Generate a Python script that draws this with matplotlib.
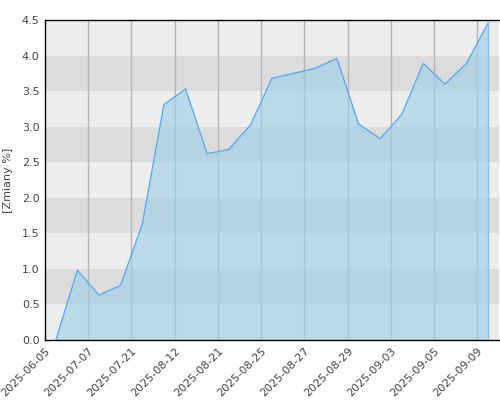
import matplotlib
matplotlib.use('Agg')
from matplotlib import pyplot as plt
import numpy as np

# values (one point per session, categorical x)
values = [0.0, 0.98, 0.63, 0.77, 1.63, 3.31, 3.53, 2.62, 2.68, 3.02, 3.68,
          3.75, 3.82, 3.96, 3.04, 2.83, 3.17, 3.89, 3.60, 3.89, 4.46]
tick_labels = ['2025-06-05', '2025-07-07', '2025-07-21', '2025-08-12', '2025-08-21',
               '2025-08-25', '2025-08-27', '2025-08-29', '2025-09-03', '2025-09-05',
               '2025-09-09']
y_ticks = [0.0, 0.5, 1.0, 1.5, 2.0, 2.5, 3.0, 3.5, 4.0, 4.5]

fig = plt.figure(figsize=(5, 4), dpi=100)
ax = fig.add_axes([0.09, 0.15, 0.908, 0.80])
ax.set_facecolor('#ededed')

x = np.arange(len(values))
ax.set_xlim(-0.5, len(values) - 0.5)
ax.set_ylim(0, 4.5)

# alternating horizontal bands
for lo in y_ticks[1::2]:
    ax.axhspan(lo, lo + 0.5, color='#dcdcdc', lw=0, zorder=0)

tick_pos = np.arange(-0.5, len(values) - 0.5, 2)
for p in tick_pos[1:]:
    ax.axvline(p, color='#b4b4b4', lw=1, zorder=1)

ax.fill_between(x, values, 0, color='#9fd0e8', alpha=0.65, lw=0, zorder=2)
ax.plot(x, values, color='#5eaaf0', lw=1, zorder=3)
ax.plot([x[-1], x[-1]], [0, values[-1]], color='#7cc4f0', lw=1, zorder=3)

ax.set_xticks(tick_pos)
ax.set_xticklabels(tick_labels, rotation=45, ha='right', rotation_mode='anchor',
                   fontsize=8, color='#444444')
ax.set_yticks(y_ticks)
ax.set_yticklabels([f'{v:.1f}' for v in y_ticks], fontsize=8, color='#444444')
ax.tick_params(length=0, pad=4)
ax.set_ylabel('[Zmiany %]', fontsize=8, color='#444444', labelpad=6)

ax.spines['right'].set_visible(False)
for s in ['left', 'bottom', 'top']:
    ax.spines[s].set_color('black')
    ax.spines[s].set_linewidth(1)

fig.savefig('out.png', dpi=100)
